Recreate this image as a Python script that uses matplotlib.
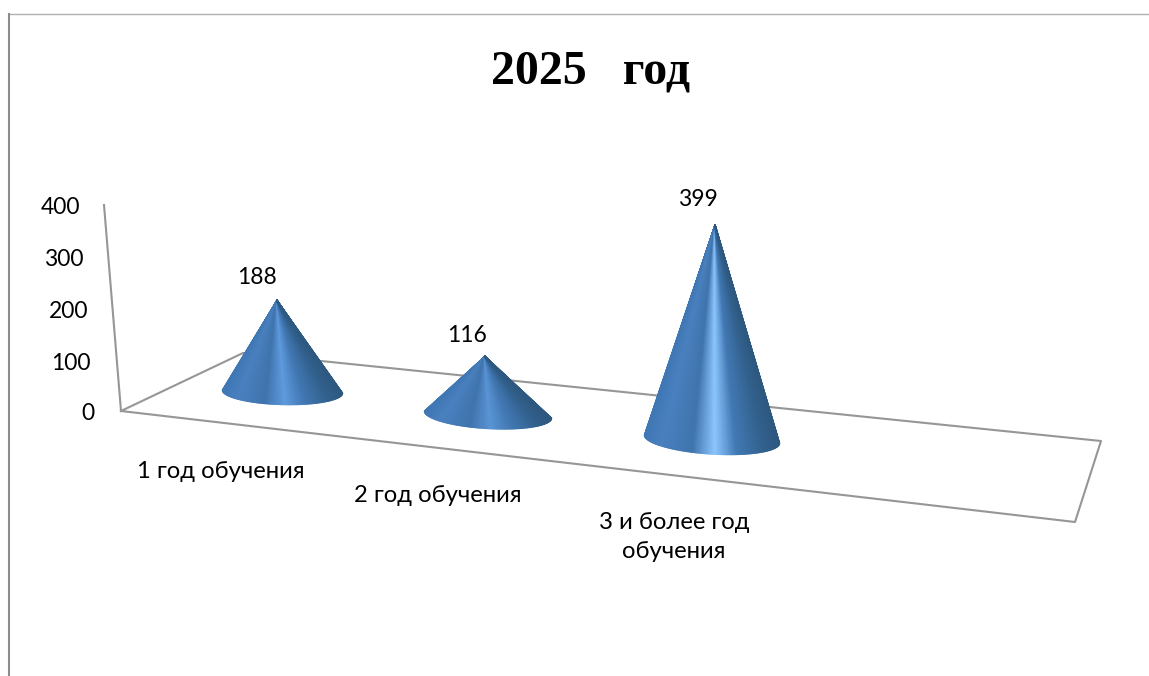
import numpy as np
import matplotlib
matplotlib.use('Agg')
import matplotlib.pyplot as plt
from matplotlib.collections import PolyCollection
from matplotlib.colors import LinearSegmentedColormap

categories = ['1 год обучения', '2 год обучения', '3 и более год\nобучения']
values = [188, 116, 399]
y_ticks = [0, 100, 200, 300, 400]
title = '2025   год'

plt.rcParams['font.family'] = ['Lato', 'DejaVu Sans']

W, H = 1149, 676
fig = plt.figure(figsize=(W / 100, H / 100), dpi=100)
ax = fig.add_axes([0, 0, 1, 1])
ax.set_xlim(0, W)
ax.set_ylim(H, 0)
ax.axis('off')

# frame round the chart, only top and left are visible
ax.plot([W, 9], [14, 14], color='#b0b0b0', lw=1)
ax.plot([9, 9], [14, H], color='#8c8c8c', lw=1.5)

# floor and wall edge
grey = '#969696'
ax.plot([121, 243, 1101, 1075, 121], [411, 353, 441, 522, 411], color=grey, lw=1.5)
ax.plot([104, 121], [205, 411], color=grey, lw=1.5)

# cone geometry in pixels: rim centre, rim half axis, rim depth
centres = [(282.5, 391.5), (488, 414.5), (712, 439)]
half_axes = [(60, 1.5), (63.5, 3.5), (67.5, 4)]
depths = [13, 14, 15]
apex_xs = [277, 485, 715]
scales = [0.484, 0.5, 0.536]  # pixels per unit, grows with perspective
highlights = ['#5f9ade', '#5a94d4', '#8cc6ff']
value_pos = [(257, 278), (467, 335), (698, 200)]

for (cx, cy), (ax_x, ax_y), depth, apex_x, scale, hi, val, pos in zip(
        centres, half_axes, depths, apex_xs, scales, highlights, values, value_pos):
    cmap = LinearSegmentedColormap.from_list(
        'cone', [(0, '#3f76b4'), (0.12, '#4a80bf'), (0.35, '#3f74ad'), (0.52, hi),
                 (0.68, '#4279b4'), (0.88, '#33628f'), (1, '#2d5880')])
    apex = (apex_x, cy - val * scale)
    t = np.linspace(np.pi, 0, 121)
    rim_x = cx + ax_x * np.cos(t)
    rim_y = cy + ax_y * np.cos(t) + depth * np.sin(t)
    polys = [[apex, (rim_x[i], rim_y[i]), (rim_x[i + 1], rim_y[i + 1])] for i in range(120)]
    # colour by rim position, so the shading runs together at the apex
    shade = cmap((rim_x[:-1] - rim_x.min()) / (rim_x.max() - rim_x.min()))
    ax.add_collection(PolyCollection(polys, facecolors=shade, edgecolors=shade, linewidths=1.0, zorder=3))
    ax.text(pos[0], pos[1], str(val), ha='center', va='center', fontsize=16.5, color='black', zorder=4)

# y tick labels, they follow the slanted axis
y_right = [95, 91, 88, 84, 80]
y_pos = [413, 364, 312, 260, 207]
for v, x, y in zip(y_ticks, y_right, y_pos):
    ax.text(x, y, str(v), ha='right', va='center', fontsize=16.5)

# category labels
label_pos = [(221, 471), (438, 496), (674, 537)]
for cat, (x, y) in zip(categories, label_pos):
    ax.text(x, y, cat, ha='center', va='center', fontsize=17.2, linespacing=1.5)

ax.text(591, 71, title, ha='center', va='center', fontsize=34.5, fontweight='bold',
        family=['Liberation Serif', 'DejaVu Serif'])

fig.savefig('out.png', dpi=100)
